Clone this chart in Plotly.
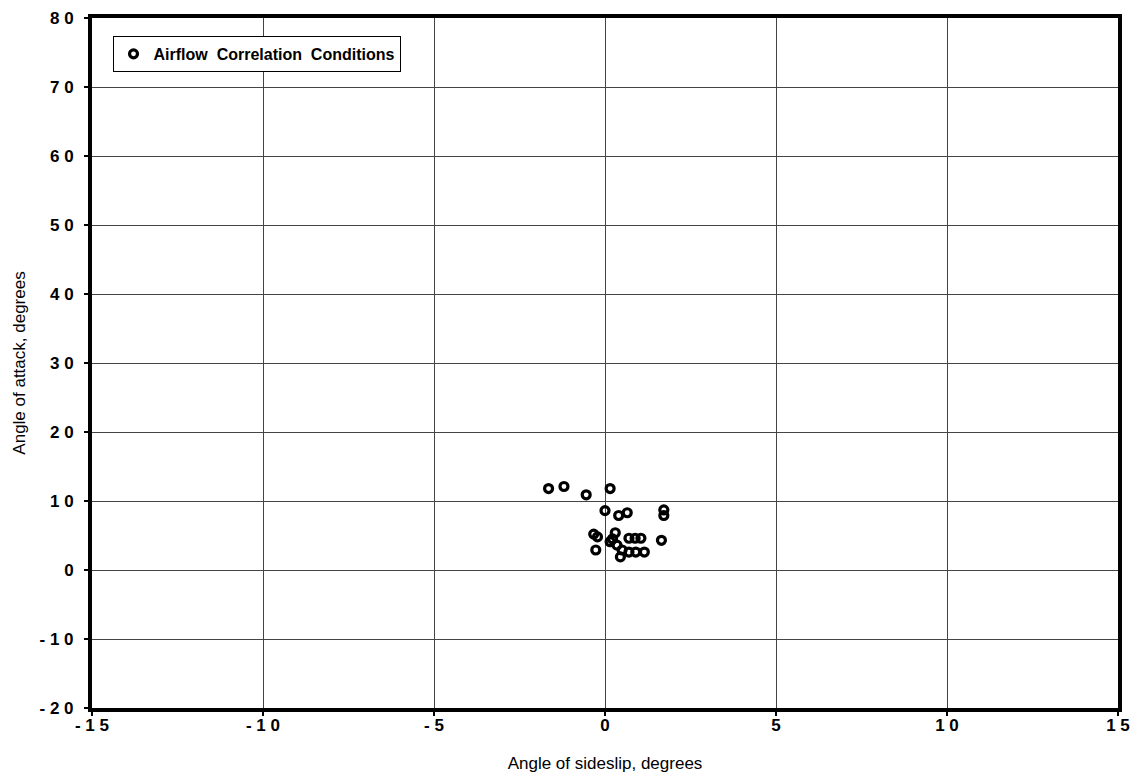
import plotly.graph_objects as go

# Data
sideslip_deg = [-1.65, -1.2, -0.55, 0.15, 0.0, 0.4, 0.65, 1.72, 1.72,
                -0.33, -0.22, -0.27, 0.3, 0.15, 0.7, 0.88, 1.05, 1.65,
                0.5, 0.45, 0.7, 0.9, 1.15, 0.35, 0.22]
attack_deg = [11.8, 12.1, 10.9, 11.8, 8.6, 7.9, 8.3, 8.7, 7.9,
              5.2, 4.8, 2.9, 5.4, 4.1, 4.6, 4.6, 4.6, 4.3,
              2.9, 1.9, 2.6, 2.6, 2.6, 3.6, 4.5]

x_tick_vals = [-15, -10, -5, 0, 5, 10, 15]
x_tick_text = ["- 1 5", "- 1 0", "- 5", "0", "5", "1 0", "1 5"]
y_tick_vals = [-20, -10, 0, 10, 20, 30, 40, 50, 60, 70, 80]
y_tick_text = ["- 2 0", "- 1 0", "0", "1 0", "2 0", "3 0", "4 0", "5 0", "6 0", "7 0", "8 0"]

series_name = "Airflow  Correlation  Conditions"

fig = go.Figure()
fig.add_trace(go.Scatter(
    x=sideslip_deg, y=attack_deg, mode="markers", name=series_name,
    marker=dict(symbol="circle-open", size=8, color="black",
                line=dict(color="black", width=3.2)),
    showlegend=True,
))

axis_common = dict(
    showgrid=True, gridcolor="#444", gridwidth=1,
    zeroline=False, automargin=False, ticklabeloverflow="allow",
    showline=True, linecolor="black", linewidth=4, mirror=True,
    ticks="outside", ticklen=4, tickwidth=2, tickcolor="black",
    tickfont=dict(family="Arial", size=17, color="black", weight="bold"),
)

fig.update_xaxes(range=[-15, 15], tickmode="array", tickvals=x_tick_vals,
                 ticktext=x_tick_text, ticklabelstandoff=-5,
                 title=dict(text="Angle of sideslip, degrees",
                            font=dict(family="Arial", size=17, color="black"),
                            standoff=24),
                 **axis_common)
fig.update_yaxes(range=[-20, 80], tickmode="array", tickvals=y_tick_vals,
                 ticktext=y_tick_text, ticklabelstandoff=7,
                 title=dict(text="Angle of attack, degrees",
                            font=dict(family="Arial", size=17, color="black"),
                            standoff=11),
                 **axis_common)

fig.update_layout(
    width=1133, height=774,
    margin=dict(l=84, r=23, t=10, b=74),
    paper_bgcolor="white", plot_bgcolor="white",
    legend=dict(x=0.02, y=0.974, xanchor="left", yanchor="top",
                bgcolor="white", bordercolor="black", borderwidth=1,
                font=dict(family="Arial", size=16, color="black", weight="bold"),
                itemwidth=30, tracegroupgap=0),
    font=dict(family="Arial", color="black"),
)

fig.write_html("out.html")
